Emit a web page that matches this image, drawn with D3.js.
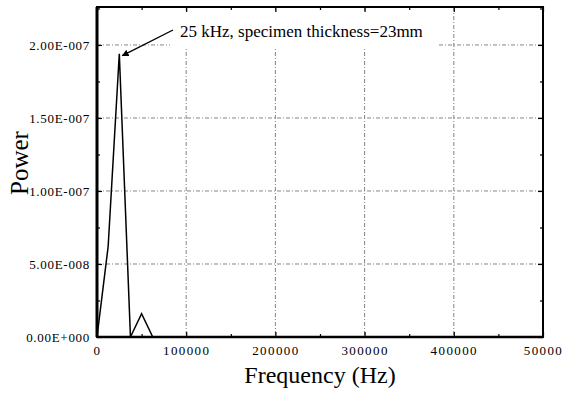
<!DOCTYPE html>
<html>
<head>
<meta charset="utf-8">
<script src="https://cdn.jsdelivr.net/npm/d3@7"></script>
<style>
  body { margin: 0; background: #fff; }
  svg { display: block; font-family: "Liberation Serif", "Times New Roman", serif; }
  .grid line { stroke: #666; stroke-width: 0.8; stroke-dasharray: 4,2,1,2; }
  .axis path { display: none; }
  .axis line { stroke: #000; stroke-width: 1.2; }
  .axis text { font-family: "Liberation Serif", "Times New Roman", serif; fill: #000; }
</style>
</head>
<body>
<div id="chart"></div>
<script>
// spectrum values
const freq  = [0, 12500, 25000, 37500, 50000, 62500, 75000, 87500, 100000,
               150000, 200000, 250000, 300000, 350000, 400000, 450000, 500000];
const power = [0, 6.2e-8, 1.94e-7, 0, 1.6e-8, 0, 2e-10, 0, 1e-10,
               1e-10, 0, 1e-10, 0, 1e-10, 0, 1e-10, 0];

const xTicks = [0, 100000, 200000, 300000, 400000, 500000];
const xTickLabels = ["0", "100000", "200000", "300000", "400000", "50000"];
const yTicks = [0, 5e-8, 1e-7, 1.5e-7, 2e-7];
const yTickLabels = ["0.00E+000", "5.00E-008", "1.00E-007", "1.50E-007", "2.00E-007"];

const W = 571, H = 399;
const margin = {top: 7, right: 28, bottom: 62, left: 97},
      width = W - margin.left - margin.right,
      height = H - margin.top - margin.bottom;

const svg = d3.select("#chart").append("svg")
  .attr("width", W)
  .attr("height", H);

const g = svg.append("g")
  .attr("transform", "translate(" + margin.left + "," + margin.top + ")");

const x = d3.scaleLinear().domain([0, 500000]).range([0, width]);
const y = d3.scaleLinear().domain([0, 2.26e-7]).range([height, 0]);

// grid
g.append("g").attr("class", "grid")
  .selectAll("line").data(xTicks.slice(1, -1)).join("line")
  .attr("x1", d => x(d)).attr("x2", d => x(d))
  .attr("y1", 0).attr("y2", height);
g.append("g").attr("class", "grid")
  .selectAll("line").data(yTicks.slice(1)).join("line")
  .attr("y1", d => y(d)).attr("y2", d => y(d))
  .attr("x1", 0).attr("x2", width);

// minor tick positions (halfway between majors)
const xMinor = d3.range(50000, 500000, 100000);
const yMinor = d3.range(2.5e-8, 2.26e-7, 5e-8);

const xAxis = d3.axisBottom(x).tickValues(xTicks)
  .tickFormat((d, i) => xTickLabels[i]).tickSizeInner(-5).tickSizeOuter(0).tickPadding(9);
const yAxis = d3.axisLeft(y).tickValues(yTicks)
  .tickFormat((d, i) => yTickLabels[i]).tickSizeInner(-5).tickSizeOuter(0).tickPadding(7);

g.append("g").attr("class", "axis axis-x")
  .attr("transform", "translate(0," + height + ")")
  .call(xAxis)
  .selectAll("text").style("font-size", "13px").style("letter-spacing", "1.4px");
g.append("g").attr("class", "axis axis-y")
  .call(yAxis)
  .selectAll("text").style("font-size", "13px").style("letter-spacing", "0.7px");

g.append("g").attr("class", "axis")
  .call(d3.axisTop(x).tickValues(xTicks).tickSizeInner(-5).tickSizeOuter(0).tickFormat(""));
g.append("g").attr("class", "axis")
  .attr("transform", "translate(" + width + ",0)")
  .call(d3.axisRight(y).tickValues(yTicks).tickSizeInner(-5).tickSizeOuter(0).tickFormat(""));

// minor ticks
g.append("g").attr("class", "axis")
  .attr("transform", "translate(0," + height + ")")
  .call(d3.axisBottom(x).tickValues(xMinor).tickSizeInner(-3).tickSizeOuter(0).tickFormat(""));
g.append("g").attr("class", "axis")
  .call(d3.axisTop(x).tickValues(xMinor).tickSizeInner(-3).tickSizeOuter(0).tickFormat(""));
g.append("g").attr("class", "axis")
  .call(d3.axisLeft(y).tickValues(yMinor).tickSizeInner(-3).tickSizeOuter(0).tickFormat(""));
g.append("g").attr("class", "axis")
  .attr("transform", "translate(" + width + ",0)")
  .call(d3.axisRight(y).tickValues(yMinor).tickSizeInner(-3).tickSizeOuter(0).tickFormat(""));

// annotation box hides the grid behind the label
g.append("rect")
  .attr("x", 73).attr("y", 5)
  .attr("width", 268).attr("height", 35)
  .attr("fill", "#fff");

// data line
const line = d3.line().x((d, i) => x(freq[i])).y(d => y(d));
g.append("path")
  .datum(power)
  .attr("fill", "none")
  .attr("stroke", "#000")
  .attr("stroke-width", 1.5)
  .attr("stroke-linejoin", "miter")
  .attr("d", line);

// frame
g.append("rect")
  .attr("width", width).attr("height", height)
  .attr("fill", "none").attr("stroke", "#000").attr("stroke-width", 2);
g.append("line")
  .attr("x1", 0).attr("x2", 0).attr("y1", 0).attr("y2", height)
  .attr("stroke", "#000").attr("stroke-width", 3);
g.append("line")
  .attr("x1", 0).attr("x2", width).attr("y1", height).attr("y2", height)
  .attr("stroke", "#000").attr("stroke-width", 2.6);

// annotation
svg.append("defs").append("marker")
  .attr("id", "arrow").attr("viewBox", "0 0 10 10")
  .attr("refX", 9).attr("refY", 5)
  .attr("markerWidth", 7).attr("markerHeight", 7)
  .attr("markerUnits", "userSpaceOnUse")
  .attr("orient", "auto")
  .append("path").attr("d", "M0,0 L10,5 L0,10 z").attr("fill", "#000");

const peakIdx = power.indexOf(d3.max(power));
g.append("line")
  .attr("x1", 76).attr("y1", 23)
  .attr("x2", x(freq[peakIdx]) + 3).attr("y2", y(power[peakIdx]) + 2)
  .attr("stroke", "#000").attr("stroke-width", 1.4)
  .attr("marker-end", "url(#arrow)");
g.append("text")
  .attr("x", 83).attr("y", 30)
  .style("font-size", "17px")
  .text("25 kHz, specimen thickness=23mm");

// axis titles
svg.append("text")
  .attr("x", margin.left + width / 2).attr("y", 383)
  .attr("text-anchor", "middle")
  .style("font-size", "24px")
  .text("Frequency (Hz)");
svg.append("text")
  .attr("transform", "translate(28,163) rotate(-90)")
  .attr("text-anchor", "middle")
  .style("font-size", "25px")
  .text("Power");
</script>
</body>
</html>
